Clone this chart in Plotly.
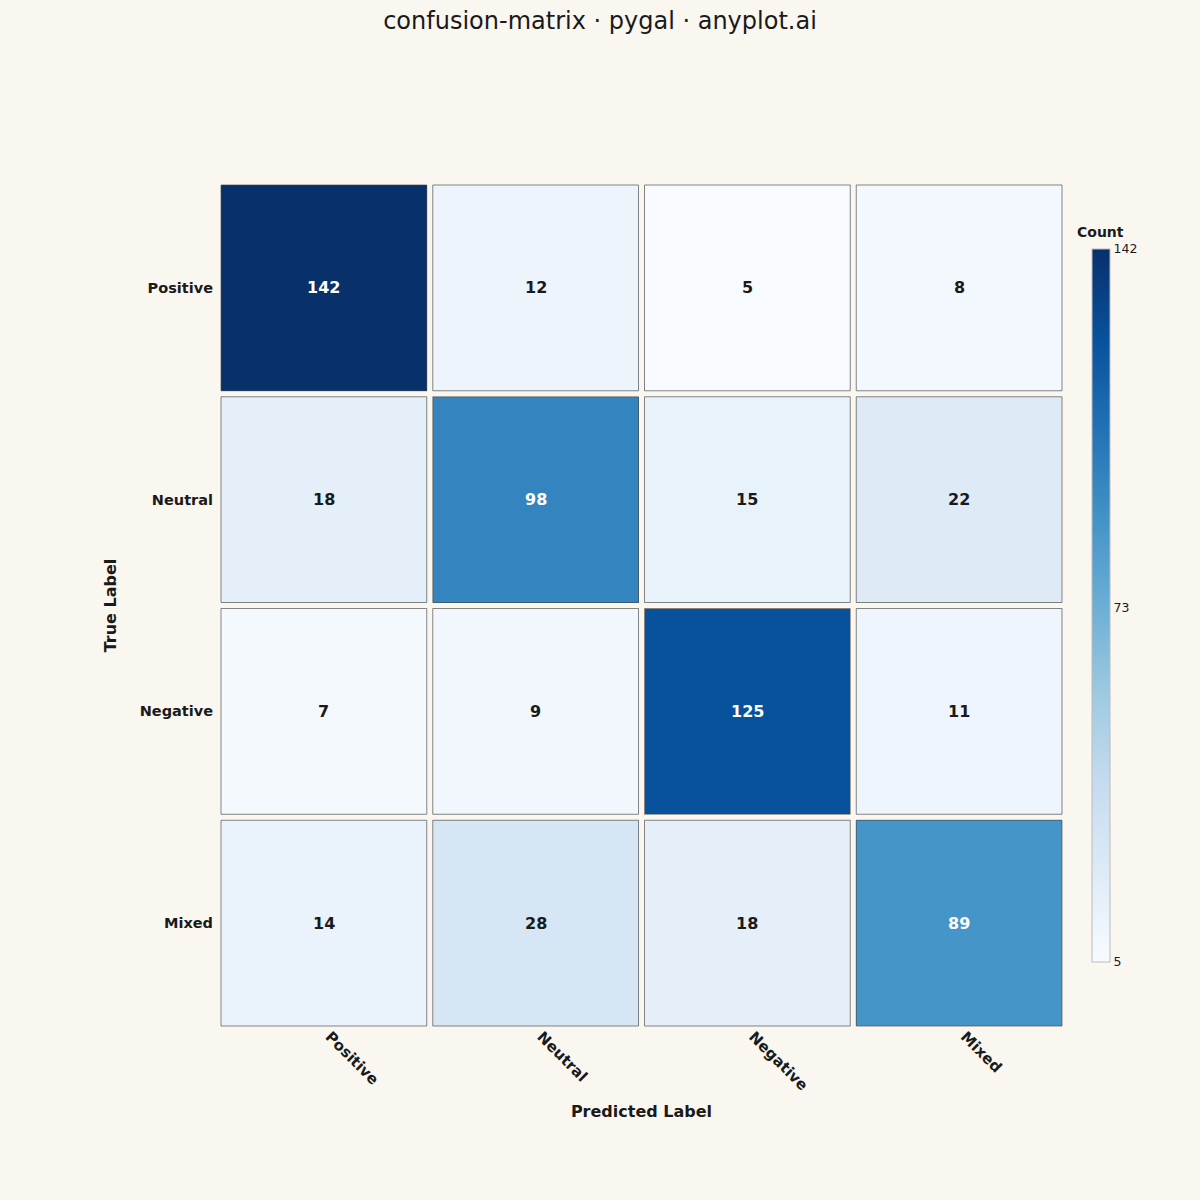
import plotly.graph_objects as go

labels = ["Positive", "Neutral", "Negative", "Mixed"]
counts = [
    [142, 12, 5, 8],
    [18, 98, 15, 22],
    [7, 9, 125, 11],
    [14, 28, 18, 89],
]
cbar_ticks = [5, 73, 142]

BG = "#FAF7F0"
INK = "#1a1a1a"
FONT = "DejaVu Sans"

n = len(labels)
zmin = min(min(r) for r in counts)
zmax = max(max(r) for r in counts)

fig = go.Figure()
fig.add_trace(go.Heatmap(
    z=counts,
    x=list(range(n)),
    y=list(range(n)),
    colorscale="Blues",
    zmin=zmin, zmax=zmax,
    xgap=6, ygap=6,
    hoverinfo="z",
    colorbar=dict(
        thickness=18,
        len=713, lenmode="pixels",
        x=1.032, xanchor="left", xpad=0,
        y=0.5, yanchor="middle", ypad=0,
        tickvals=cbar_ticks,
        ticktext=[str(v) for v in cbar_ticks],
        ticks="",
        tickfont=dict(size=12.5, color=INK, family=FONT),
        outlinecolor="#bbbbbb", outlinewidth=1,
    ),
))

fig.add_annotation(x=1.0425, y=0.941, xref="paper", yref="paper",
                   text="<b>Count</b>", showarrow=False,
                   xanchor="center", yanchor="middle",
                   font=dict(size=14, color=INK, family=FONT))

half = 0.5 - 3.0 / 211.75
for i in range(n):
    for j in range(n):
        v = counts[i][j]
        fig.add_shape(type="rect", xref="x", yref="y",
                      x0=j - half, x1=j + half, y0=i - half, y1=i + half,
                      line=dict(color="rgba(70,70,70,0.65)", width=1),
                      fillcolor="rgba(0,0,0,0)", layer="above")
        fig.add_annotation(x=j, y=i, xref="x", yref="y", text=f"<b>{v}</b>",
                           showarrow=False,
                           font=dict(size=16, family=FONT,
                                     color="white" if v > 70 else INK))

fig.update_xaxes(
    range=[-0.5, n - 0.5],
    tickvals=list(range(n)), ticktext=labels,
    tickangle=45, ticks="", showgrid=False, zeroline=False, showline=False,
    ticklabelstandoff=-5, ticklabelshift=6,
    tickfont=dict(size=15, color=INK, family=FONT, weight="bold"),
    title=dict(text="<b>Predicted Label</b>", font=dict(size=16, color=INK, family=FONT), standoff=12),
)
fig.update_yaxes(
    range=[n - 0.5, -0.5],
    tickvals=list(range(n)), ticktext=labels,
    ticks="", showgrid=False, zeroline=False, showline=False,
    ticklabelstandoff=4,
    tickfont=dict(size=14.5, color=INK, family=FONT, weight="bold"),
    title=dict(text="<b>True Label</b>", font=dict(size=16, color=INK, family=FONT), standoff=19),
)

fig.update_layout(
    width=1200, height=1200, autosize=False,
    paper_bgcolor=BG, plot_bgcolor=BG,
    margin=dict(l=218, r=135, t=182, b=171),
    title=dict(text="confusion-matrix · pygal · anyplot.ai", x=0.5, xanchor="center",
               y=0.983, yanchor="middle",
               font=dict(size=24, color=INK, family=FONT)),
    font=dict(family=FONT, color=INK),
)

fig.write_html("out.html", config={"displayModeBar": False},
               post_script="document.body.style.margin='0';")
